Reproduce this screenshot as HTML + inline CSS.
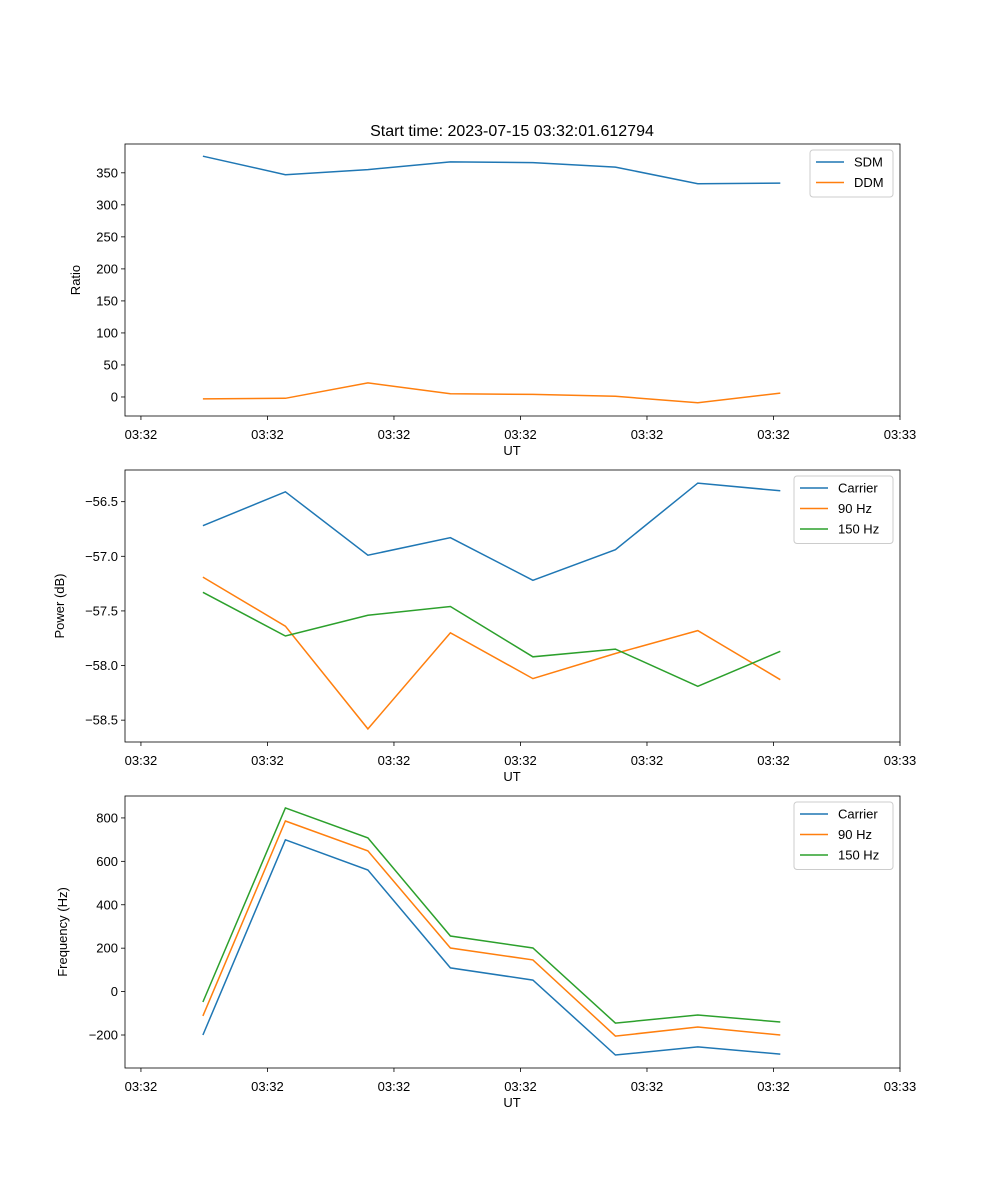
<!DOCTYPE html>
<html><head><meta charset="utf-8"><style>
body{margin:0;background:#fff;}
svg{display:block;font-family:"Liberation Sans","DejaVu Sans",sans-serif;}
</style></head><body>
<svg id="fig" width="1000" height="1200" xmlns="http://www.w3.org/2000/svg"></svg>
<script>
const tickTimes=[0,10,20,30,40,50,60];
const tickLabels=["03:32","03:32","03:32","03:32","03:32","03:32","03:33"];
const times=[4.9,11.42,17.94,24.46,30.98,37.5,44.02,50.54];
const sdm=[376,347,355,367,366,359,333,334];
const ddm=[-3,-2,22,5,4,1,-9,6];
const powCarrier=[-56.72,-56.41,-56.99,-56.83,-57.22,-56.94,-56.33,-56.40];
const pow90=[-57.19,-57.64,-58.58,-57.70,-58.12,-57.89,-57.68,-58.13];
const pow150=[-57.33,-57.73,-57.54,-57.46,-57.92,-57.85,-58.19,-57.87];
const freqCarrier=[-200,699,560,109,53,-292,-255,-288];
const freq90=[-112,786,648,201,146,-205,-163,-200];
const freq150=[-48,846,708,256,201,-145,-108,-140];
const ticks1=[0,50,100,150,200,250,300,350];
const ticks1Labels=["0","50","100","150","200","250","300","350"];
const ticks2=[-58.5,-58,-57.5,-57,-56.5];
const ticks2Labels=["\u221258.5","\u221258.0","\u221257.5","\u221257.0","\u221256.5"];
const ticks3=[-200,0,200,400,600,800];
const ticks3Labels=["\u2212200","0","200","400","600","800"];

const NS="http://www.w3.org/2000/svg";
const fig=document.getElementById('fig');
function mk(tag,attrs,parent,text){const e=document.createElementNS(NS,tag);for(const k in attrs)e.setAttribute(k,attrs[k]);if(text!==undefined)e.textContent=text;(parent||fig).appendChild(e);return e;}
const X0=125,X1=900,T0=-1.26,T1=60;
function xs(t){return X0+(t-T0)/(T1-T0)*(X1-X0);}

function panel(cfg){
  const g=mk('g',{});
  
  
  const ys=v=>cfg.top+(cfg.ymax-v)/(cfg.ymax-cfg.ymin)*(cfg.bottom-cfg.top);
  cfg.series.forEach(s=>{
    const p=mk('polyline',{points:s.vals.map((v,i)=>xs(times[i]).toFixed(1)+','+ys(v).toFixed(1)).join(' '),fill:'none',stroke:s.color,'stroke-width':1.5},g);
    
    
  });
  const fr=mk('rect',{x:X0,y:cfg.top,width:X1-X0,height:cfg.bottom-cfg.top,fill:'none',stroke:'#000','stroke-width':0.8},g);
  
  
  tickTimes.forEach((t,i)=>{
    const x=xs(t);
    mk('line',{x1:x,x2:x,y1:cfg.bottom,y2:cfg.bottom+4,stroke:'#000','stroke-width':0.8},g);
    const tl=mk('text',{x:x,y:cfg.bottom+23,'font-size':13,'text-anchor':'middle'},g,tickLabels[i]);
    
    
  });
  cfg.ticks.forEach((v,i)=>{
    const y=ys(v);
    mk('line',{x1:X0-4,x2:X0,y1:y,y2:y,stroke:'#000','stroke-width':0.8},g);
    const tl=mk('text',{x:X0-7,y:y+4.5,'font-size':13,'text-anchor':'end'},g,cfg.tickLabels[i]);
    
    
  });
  const xt=mk('text',{x:512,y:cfg.bottom+39,'font-size':13,'text-anchor':'middle'},g,'UT');
  
  
  const cy=(cfg.top+cfg.bottom)/2;
  const yt=mk('text',{x:cfg.ylx,y:cy,'font-size':13,'text-anchor':'middle',transform:`rotate(-90 ${cfg.ylx} ${cy})`},g,cfg.ylabel);
  
  
  const L=cfg.legend;
  const lg=mk('g',{},g);
  
  
  mk('rect',{x:L.x,y:cfg.top+6,width:L.w,height:cfg.series.length*20.5+6,rx:3,fill:'#fff',stroke:'#ccc','stroke-width':1,'fill-opacity':0.8},lg);
  cfg.series.forEach((s,i)=>{
    const y=cfg.top+18+i*20.5;
    const le=mk('g',{},lg);
    
    
    mk('line',{x1:L.x+6,x2:L.x+34,y1:y,y2:y,stroke:s.color,'stroke-width':1.5},le);
    mk('text',{x:L.x+44,y:y+4.5,'font-size':13},le,s.label);
  });
}
const t=mk('text',{x:512,y:136,'font-size':16,'text-anchor':'middle'},fig,'Start time: 2023-07-15 03:32:01.612794');


panel({name:'ratio-panel',top:144,bottom:416,ymin:-29.7,ymax:395,ticks:ticks1,tickLabels:ticks1Labels,ylabel:'Ratio',ylx:80,
  legend:{x:810,w:83},
  series:[{id:'sdm-line',label:'SDM',vals:sdm,color:'#1f77b4'},{id:'ddm-line',label:'DDM',vals:ddm,color:'#ff7f0e'}]});
panel({name:'power-panel',top:470,bottom:742,ymin:-58.70,ymax:-56.21,ticks:ticks2,tickLabels:ticks2Labels,ylabel:'Power (dB)',ylx:64,
  legend:{x:794,w:99},
  series:[{id:'power-carrier-line',label:'Carrier',vals:powCarrier,color:'#1f77b4'},{id:'power-90hz-line',label:'90 Hz',vals:pow90,color:'#ff7f0e'},{id:'power-150hz-line',label:'150 Hz',vals:pow150,color:'#2ca02c'}]});
panel({name:'frequency-panel',top:796,bottom:1068,ymin:-352,ymax:901,ticks:ticks3,tickLabels:ticks3Labels,ylabel:'Frequency (Hz)',ylx:67,
  legend:{x:794,w:99},
  series:[{id:'freq-carrier-line',label:'Carrier',vals:freqCarrier,color:'#1f77b4'},{id:'freq-90hz-line',label:'90 Hz',vals:freq90,color:'#ff7f0e'},{id:'freq-150hz-line',label:'150 Hz',vals:freq150,color:'#2ca02c'}]});
</script>
</body></html>
